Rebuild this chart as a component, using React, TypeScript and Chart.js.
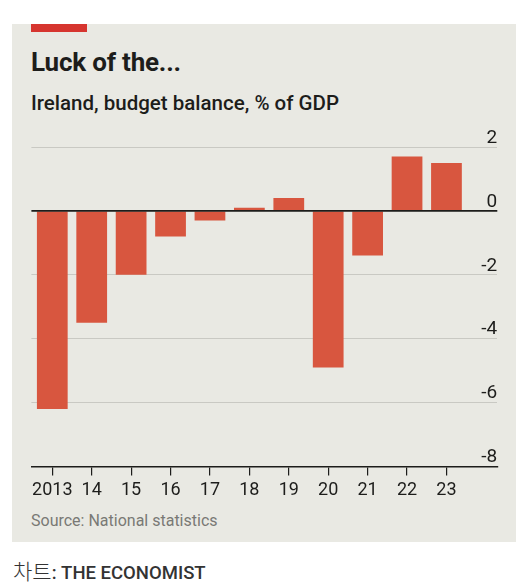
import React, { useEffect, useRef } from "react";
import { Chart, registerables } from "chart.js";

Chart.register(...registerables);

// ---- data ----
const years = [2013, 2014, 2015, 2016, 2017, 2018, 2019, 2020, 2021, 2022, 2023];
const yearLabels = ["2013", "14", "15", "16", "17", "18", "19", "20", "21", "22", "23"];
const budgetBalance = [-6.2, -3.5, -2.0, -0.8, -0.3, 0.1, 0.4, -4.9, -1.4, 1.7, 1.5];
const yTickValues = [2, 0, -2, -4, -6, -8];

const title = "Luck of the...";
const subtitle = "Ireland, budget balance, % of GDP";
const source = "Source: National statistics";

const BAR = "#d8563f";
const INK = "#1d1d1b";
const GRID = "#c9c9c3";
const PANEL = "#e9e9e3";

const zeroLinePlugin = {
  id: "zeroLine",
  afterDatasetsDraw(chart: any) {
    const { ctx, chartArea, scales } = chart;
    const py = scales.y.getPixelForValue(0);
    ctx.save();
    ctx.strokeStyle = INK;
    ctx.lineWidth = 1.8;
    ctx.beginPath();
    ctx.moveTo(chartArea.left, py);
    ctx.lineTo(chartArea.right, py);
    ctx.stroke();
    ctx.restore();
  },
};

function BudgetChart() {
  const ref = useRef<HTMLCanvasElement | null>(null);
  useEffect(() => {
    if (!ref.current) return;
    const chart = new Chart(ref.current, {
      type: "bar",
      data: {
        datasets: [
          {
            data: years.map((yr, i) => ({ x: yr, y: budgetBalance[i] })),
            backgroundColor: BAR,
            borderWidth: 0,
            barPercentage: 0.78,
            categoryPercentage: 1,
          },
        ],
      },
      options: {
        animation: false,
        responsive: false,
        maintainAspectRatio: false,
        events: [],
        layout: { padding: { left: 19.4, right: 18.7, top: 29, bottom: 3 } },
        plugins: { legend: { display: false }, tooltip: { enabled: false }, title: { display: false } },
        scales: {
          x: {
            type: "linear",
            min: 2012.47,
            max: 2024.29,
            offset: false,
            afterBuildTicks: (s: any) => {
              s.ticks = years.map((v) => ({ value: v }));
            },
            ticks: {
              autoSkip: false,
              maxRotation: 0,
              padding: 4,
              color: INK,
              font: { family: "Roboto", size: 18 },
              callback: (_v: any, i: number) => yearLabels[i],
            },
            grid: { offset: false, drawOnChartArea: false, drawTicks: true, tickLength: 9, color: INK, lineWidth: 1.2 },
            border: { display: true, color: INK, width: 1.5 },
          },
          y: {
            position: "right",
            min: -8,
            max: 2,
            afterBuildTicks: (s: any) => {
              s.ticks = yTickValues.map((v) => ({ value: v }));
            },
            ticks: {
              mirror: true,
              padding: 0,
              labelOffset: -9,
              color: INK,
              font: { family: "Roboto", size: 19 },
              callback: (v: any) => String(v),
            },
            grid: {
              drawTicks: false,
              lineWidth: 1,
              color: (c: any) => (c.tick && c.tick.value === 0 ? "rgba(0,0,0,0)" : GRID),
            },
            border: { display: false },
          },
        },
      },
      plugins: [zeroLinePlugin],
    });
    return () => chart.destroy();
  }, []);
  return <canvas ref={ref} width={504} height={390} style={{ position: "absolute", left: 12, top: 118, width: 504, height: 390 }} />;
}

export default function App() {
  return (
    <div style={{ position: "absolute", left: 0, top: 0, width: 530, height: 583, background: "#ffffff", overflow: "hidden", fontFamily: "Roboto, sans-serif" }}>
      <div style={{ position: "absolute", left: 12, top: 24, width: 504, height: 518, background: PANEL }} />
      <div style={{ position: "absolute", left: 31, top: 24, width: 56, height: 8, background: "#d6352f" }} />
      <div style={{ position: "absolute", left: 31, top: 49, fontSize: 26, lineHeight: "26px", fontWeight: 700, color: INK, letterSpacing: "-0.2px", whiteSpace: "nowrap" }}>{title}</div>
      <div style={{ position: "absolute", left: 31, top: 93, fontSize: 20.5, lineHeight: "21px", fontWeight: 500, color: INK, whiteSpace: "nowrap" }}>{subtitle}</div>
      <BudgetChart />
      <div style={{ position: "absolute", left: 31, top: 513, fontSize: 16, lineHeight: "16px", color: "#797975", whiteSpace: "nowrap" }}>{source}</div>
      <div style={{ position: "absolute", left: 13, top: 557, lineHeight: "26px", whiteSpace: "nowrap", color: "#333333" }}>
        <span style={{ fontFamily: "'Noto Sans CJK KR', sans-serif", fontSize: 21, fontWeight: 300 }}>차트</span>
        <span style={{ fontFamily: "Roboto, sans-serif", fontSize: 18.5, fontWeight: 500 }}>: THE ECONOMIST</span>
      </div>
    </div>
  );
}
